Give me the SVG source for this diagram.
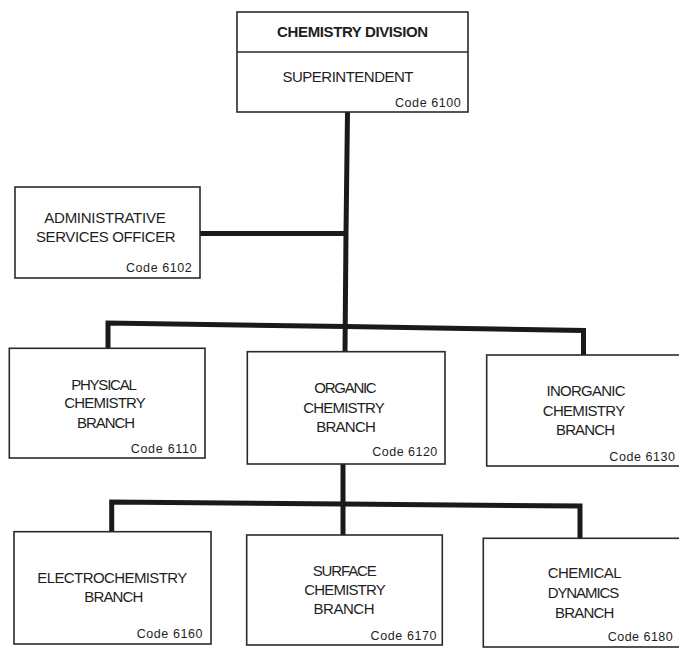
<svg xmlns="http://www.w3.org/2000/svg" width="679" height="648" viewBox="0 0 679 648">
<style>
.box{fill:#fff;stroke:#2a2a2a;stroke-width:1.6}
.t{font-family:"Liberation Sans",Arial,sans-serif;font-size:15px;fill:#1e1e1e;text-anchor:middle}
.b{font-weight:bold}
.c{font-family:"Liberation Sans",Arial,sans-serif;font-size:12.5px;fill:#1e1e1e;text-anchor:start}
.ln{fill:none;stroke:#1a1a1a;stroke-width:5;stroke-linejoin:miter;stroke-linecap:butt}
</style>
<rect width="679" height="648" fill="#fff"/>
<g id="connectors">
<polyline class="ln" points="347.5,112 346,233 345,352"/>
<line class="ln" x1="200" y1="233.5" x2="346" y2="233.5" stroke-width="4.5"/>
<polyline class="ln" points="108,348 108,323 346,326.5 583.5,330.5 583.5,355"/>
<line class="ln" x1="343" y1="464" x2="343" y2="535"/>
<polyline class="ln" points="111.7,532 111.7,502 343,504 580,506 580,538.5"/>
</g>
<g id="chemistry-division">
<rect class="box" x="237" y="12" width="231" height="100"/>
<line x1="237" y1="52" x2="468" y2="52" stroke="#2a2a2a" stroke-width="1.4"/>
<text class="t b" x="352.6" y="36.7" textLength="151">CHEMISTRY DIVISION</text>
<text class="t" x="348" y="81.7" textLength="131">SUPERINTENDENT</text>
<text class="c" x="395" y="107.3" textLength="65.7">Code 6100</text>
</g>
<g id="admin">
<rect class="box" x="15" y="187" width="185" height="91"/>
<text class="t" x="105" y="223" textLength="121.4">ADMINISTRATIVE</text>
<text class="t" x="105.8" y="241.7" textLength="139.7">SERVICES OFFICER</text>
<text class="c" x="126" y="271.7" textLength="65.7">Code 6102</text>
</g>
<g id="physical">
<rect class="box" x="9.3" y="348.3" width="195.7" height="109.7"/>
<text class="t" x="104" y="390" textLength="65.7">PHYSICAL</text>
<text class="t" x="105" y="408.3" textLength="81.4">CHEMISTRY</text>
<text class="t" x="106" y="427.7" textLength="58">BRANCH</text>
<text class="c" x="130.7" y="453.3" textLength="66">Code 6110</text>
</g>
<g id="organic">
<rect class="box" x="247.3" y="351.7" width="197.7" height="112.3"/>
<text class="t" x="345.5" y="392.7" textLength="62.3">ORGANIC</text>
<text class="t" x="344" y="412.7" textLength="81.7">CHEMISTRY</text>
<text class="t" x="346" y="432.3" textLength="59.7">BRANCH</text>
<text class="c" x="372.3" y="456" textLength="65">Code 6120</text>
</g>
<g id="inorganic">
<rect class="box" x="486.7" y="355" width="205" height="111"/>
<text class="t" x="586" y="396" textLength="79">INORGANIC</text>
<text class="t" x="584" y="416" textLength="82.3">CHEMISTRY</text>
<text class="t" x="585.5" y="435" textLength="59">BRANCH</text>
<text class="c" x="609.3" y="460.7" textLength="65.7">Code 6130</text>
</g>
<g id="electrochemistry">
<rect class="box" x="14" y="531.7" width="197" height="112.3"/>
<text class="t" x="112.3" y="583.3" textLength="150">ELECTROCHEMISTRY</text>
<text class="t" x="113.8" y="602.3" textLength="59">BRANCH</text>
<text class="c" x="136.7" y="638.3" textLength="65.7">Code 6160</text>
</g>
<g id="surface">
<rect class="box" x="246.7" y="535" width="195.6" height="110"/>
<text class="t" x="344.7" y="575.7" textLength="64">SURFACE</text>
<text class="t" x="345" y="595" textLength="81.3">CHEMISTRY</text>
<text class="t" x="344" y="614.3" textLength="61">BRANCH</text>
<text class="c" x="370.5" y="640" textLength="66">Code 6170</text>
</g>
<g id="dynamics">
<rect class="box" x="483.3" y="538.3" width="210" height="108.7"/>
<text class="t" x="584.7" y="578.3" textLength="74">CHEMICAL</text>
<text class="t" x="583.5" y="598.3" textLength="71.7">DYNAMICS</text>
<text class="t" x="584.7" y="618.3" textLength="59.3">BRANCH</text>
<text class="c" x="607.7" y="641" textLength="65">Code 6180</text>
</g>
</svg>
